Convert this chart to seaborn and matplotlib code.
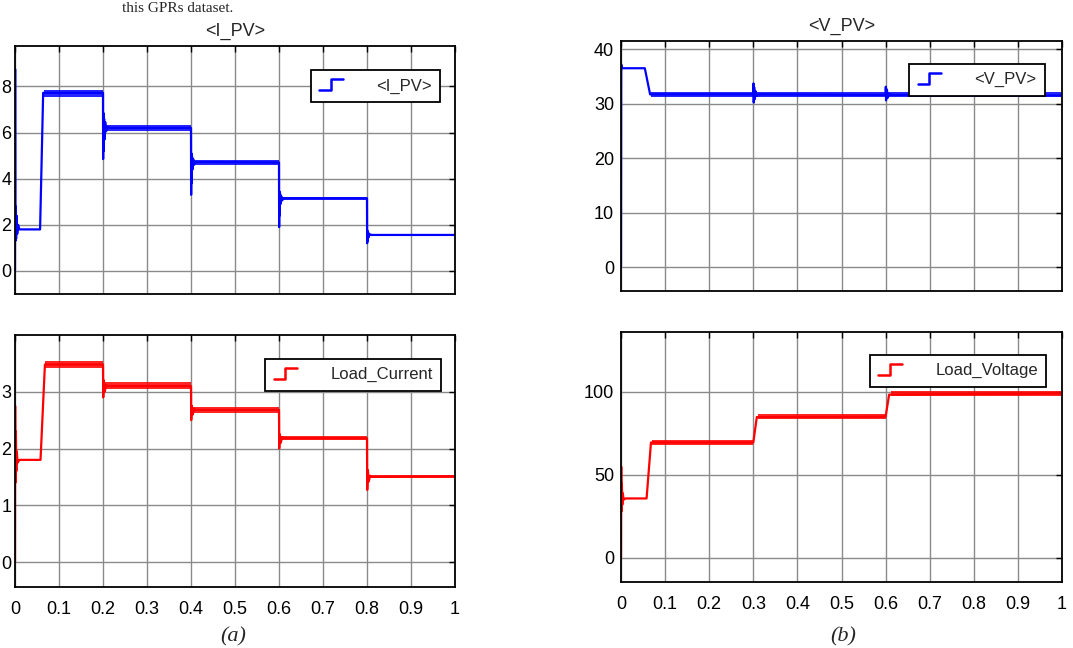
import matplotlib
matplotlib.use("Agg")
import matplotlib.pyplot as plt
import seaborn as sns
import pandas as pd
from matplotlib.lines import Line2D
from matplotlib.legend_handler import HandlerBase

# ---------------- data ----------------
ipv_t = [0, 0.0003, 0.0008, 0.0015, 0.0025, 0.0035, 0.005, 0.007, 0.010, 0.057, 0.064,
         0.200, 0.2003, 0.2008, 0.2015, 0.2025, 0.2035, 0.205, 0.207, 0.210, 0.215,
         0.400, 0.4003, 0.4008, 0.4015, 0.4025, 0.4035, 0.405, 0.407, 0.410,
         0.600, 0.6003, 0.6008, 0.6015, 0.6025, 0.6035, 0.605, 0.607, 0.610,
         0.800, 0.8003, 0.8008, 0.8015, 0.8025, 0.8035, 0.805, 0.810, 1.0]
ipv_v = [0, 8.75, 1.3, 2.8, 1.4, 2.4, 1.6, 2.0, 1.8, 1.8, 7.72,
         7.72, 4.85, 6.85, 5.2, 6.6, 5.7, 6.45, 6.05, 6.25, 6.2,
         6.2, 3.3, 5.1, 3.8, 4.95, 4.4, 4.85, 4.6, 4.72,
         4.7, 1.9, 3.45, 2.4, 3.35, 2.9, 3.25, 3.05, 3.15,
         3.15, 1.2, 1.75, 1.3, 1.68, 1.45, 1.6, 1.56, 1.56]
ipv_band_t0 = [0.066, 0.205, 0.405, 0.605, 0.805]
ipv_band_t1 = [0.200, 0.400, 0.600, 0.800, 1.000]
ipv_band_lo = [7.55, 6.05, 4.58, 3.08, 1.50]
ipv_band_hi = [7.85, 6.32, 4.80, 3.20, 1.62]

il_t = [0, 0.0003, 0.001, 0.002, 0.003, 0.004, 0.006, 0.010, 0.058, 0.068,
        0.200, 0.2005, 0.202, 0.204, 0.207, 0.210,
        0.400, 0.4005, 0.402, 0.404, 0.407, 0.410,
        0.600, 0.6005, 0.602, 0.604, 0.607, 0.610,
        0.800, 0.8005, 0.802, 0.804, 0.807, 0.810, 1.0]
il_v = [0, 2.75, 1.4, 2.3, 1.6, 1.95, 1.75, 1.8, 1.8, 3.48,
        3.48, 2.9, 3.2, 3.0, 3.12, 3.1,
        3.1, 2.5, 2.75, 2.6, 2.7, 2.68,
        2.68, 2.0, 2.25, 2.1, 2.2, 2.18,
        2.18, 1.27, 1.62, 1.42, 1.52, 1.5, 1.51]
il_band_t0 = [0.068, 0.205, 0.405, 0.605, 0.805]
il_band_t1 = [0.200, 0.400, 0.600, 0.800, 1.000]
il_band_lo = [3.41, 3.05, 2.63, 2.15, 1.48]
il_band_hi = [3.55, 3.17, 2.73, 2.22, 1.54]

vpv_t = [0, 0.0005, 0.002, 0.054, 0.066,
         0.300, 0.3005, 0.301, 0.302, 0.303, 0.305, 0.308, 0.312,
         0.600, 0.6005, 0.601, 0.603, 0.605, 0.608, 0.612, 1.0]
vpv_v = [0, 37.2, 36.5, 36.5, 31.7,
         31.7, 33.7, 30.2, 33.0, 30.8, 32.3, 31.4, 31.7,
         31.6, 33.1, 30.6, 32.6, 31.1, 31.8, 31.6, 31.5]
vpv_band_t0 = [0.068]
vpv_band_t1 = [1.000]
vpv_band_lo = [31.2]
vpv_band_hi = [32.1]

vl_t = [0, 0.0005, 0.001, 0.002, 0.003, 0.004, 0.006, 0.010, 0.058, 0.068,
        0.300, 0.308, 0.600, 0.608, 1.0]
vl_v = [0, 55, 28, 45, 32, 39, 35, 35.8, 35.8, 69.5,
        69.5, 84.8, 85.0, 98.3, 99.0]
vl_band_t0 = [0.070, 0.310, 0.612]
vl_band_t1 = [0.300, 0.600, 1.000]
vl_band_lo = [68.2, 83.8, 97.2]
vl_band_hi = [71.0, 86.5, 100.2]

x_ticks = [0, 0.1, 0.2, 0.3, 0.4, 0.5, 0.6, 0.7, 0.8, 0.9, 1.0]
x_tick_labels = ["0", "0.1", "0.2", "0.3", "0.4", "0.5", "0.6", "0.7", "0.8", "0.9", "1"]

# ---------------- style ----------------
sns.set_style("white")
plt.rcParams["font.family"] = ["Liberation Sans", "DejaVu Sans"]

W, H = 1073, 648
fig = plt.figure(figsize=(W / 100, H / 100), dpi=100)
fig.patch.set_facecolor("white")


def px_axes(x0, y0, x1, y1):
    return fig.add_axes([x0 / W, 1 - y1 / H, (x1 - x0) / W, (y1 - y0) / H])


class StepHandler(HandlerBase):
    def create_artists(self, legend, orig_handle, xdescent, ydescent,
                       width, height, fontsize, trans):
        x0 = -xdescent
        y0 = -ydescent
        xs = [x0, x0 + 0.5 * width, x0 + 0.5 * width, x0 + width]
        ys = [y0 + 0.05 * height, y0 + 0.05 * height, y0 + 1.0 * height, y0 + 1.0 * height]
        ln = Line2D(xs, ys, color=orig_handle.get_color(), lw=1.8)
        ln.set_transform(trans)
        return [ln]


def panel(ax, t, v, bt0, bt1, blo, bhi, color, label, ylim, yticks, show_x, anchor, ypad):
    df = pd.DataFrame({"t": t, "v": v})
    sns.lineplot(data=df, x="t", y="v", ax=ax, color=color, lw=1.6,
                 estimator=None, sort=False, legend=False)
    for a, b, lo, hi in zip(bt0, bt1, blo, bhi):
        ax.fill_between([a, b], [lo, lo], [hi, hi], color=color, alpha=0.85, lw=0)
    ax.set_xlim(0, 1)
    ax.set_ylim(*ylim)
    ax.set_xticks(x_ticks)
    ax.set_yticks(yticks)
    ax.set_yticklabels([str(y) for y in yticks])
    if show_x:
        ax.set_xticklabels(x_tick_labels)
    else:
        ax.set_xticklabels([])
    ax.set_xlabel("")
    ax.set_ylabel("")
    ax.grid(True, color="#8a8a8a", lw=1.0)
    for s in ax.spines.values():
        s.set_color("black")
        s.set_linewidth(1.3)
        s.set_visible(True)
    ax.tick_params(axis="both", direction="in", length=4, width=1, colors="black",
                   top=True, right=True, labelsize=13)
    ax.tick_params(axis="x", pad=10)
    ax.tick_params(axis="y", pad=ypad)
    h = Line2D([], [], color=color)
    leg = ax.legend([h], [label], handler_map={Line2D: StepHandler()},
                    loc="upper right", bbox_to_anchor=anchor, frameon=True,
                    fancybox=False, framealpha=1, edgecolor="black",
                    fontsize=12, handlelength=1.4, handletextpad=2.0,
                    borderpad=0.5, borderaxespad=0)
    leg.get_frame().set_linewidth(1.3)


ax1 = px_axes(15, 46, 455, 294)
panel(ax1, ipv_t, ipv_v, ipv_band_t0, ipv_band_t1, ipv_band_lo, ipv_band_hi,
      "#0000ff", "<I_PV>", (-1.0, 9.75), [0, 2, 4, 6, 8], False, (0.966, 0.903), 2.5)
ax1.set_title("<I_PV>", fontsize=13, pad=7)

ax2 = px_axes(15, 335, 455, 587)
panel(ax2, il_t, il_v, il_band_t0, il_band_t1, il_band_lo, il_band_hi,
      "#ff0000", "Load_Current", (-0.44, 4.0), [0, 1, 2, 3], True, (0.968, 0.905), 2.5)

ax3 = px_axes(621, 41, 1062, 291)
panel(ax3, vpv_t, vpv_v, vpv_band_t0, vpv_band_t1, vpv_band_lo, vpv_band_hi,
      "#0000ff", "<V_PV>", (-4.4, 41.5), [0, 10, 20, 30, 40], False, (0.961, 0.908), 5)
ax3.set_title("<V_PV>", fontsize=13, pad=7)

ax4 = px_axes(621, 332, 1062, 582)
panel(ax4, vl_t, vl_v, vl_band_t0, vl_band_t1, vl_band_lo, vl_band_hi,
      "#ff0000", "Load_Voltage", (-14.5, 136), [0, 50, 100], True, (0.964, 0.908), 5)

serif = ["Liberation Serif", "DejaVu Serif"]
fig.text(233 / W, 1 - 637 / H, "(a)", family=serif, style="italic", fontsize=16,
         ha="center", va="center")
fig.text(843 / W, 1 - 637 / H, "(b)", family=serif, style="italic", fontsize=16,
         ha="center", va="center")
fig.text(233 / W, 1 - 2 / H, "this GPRs dataset.", family=serif, fontsize=11,
         ha="right", va="top")

fig.savefig("out.png", dpi=100, facecolor="white")
